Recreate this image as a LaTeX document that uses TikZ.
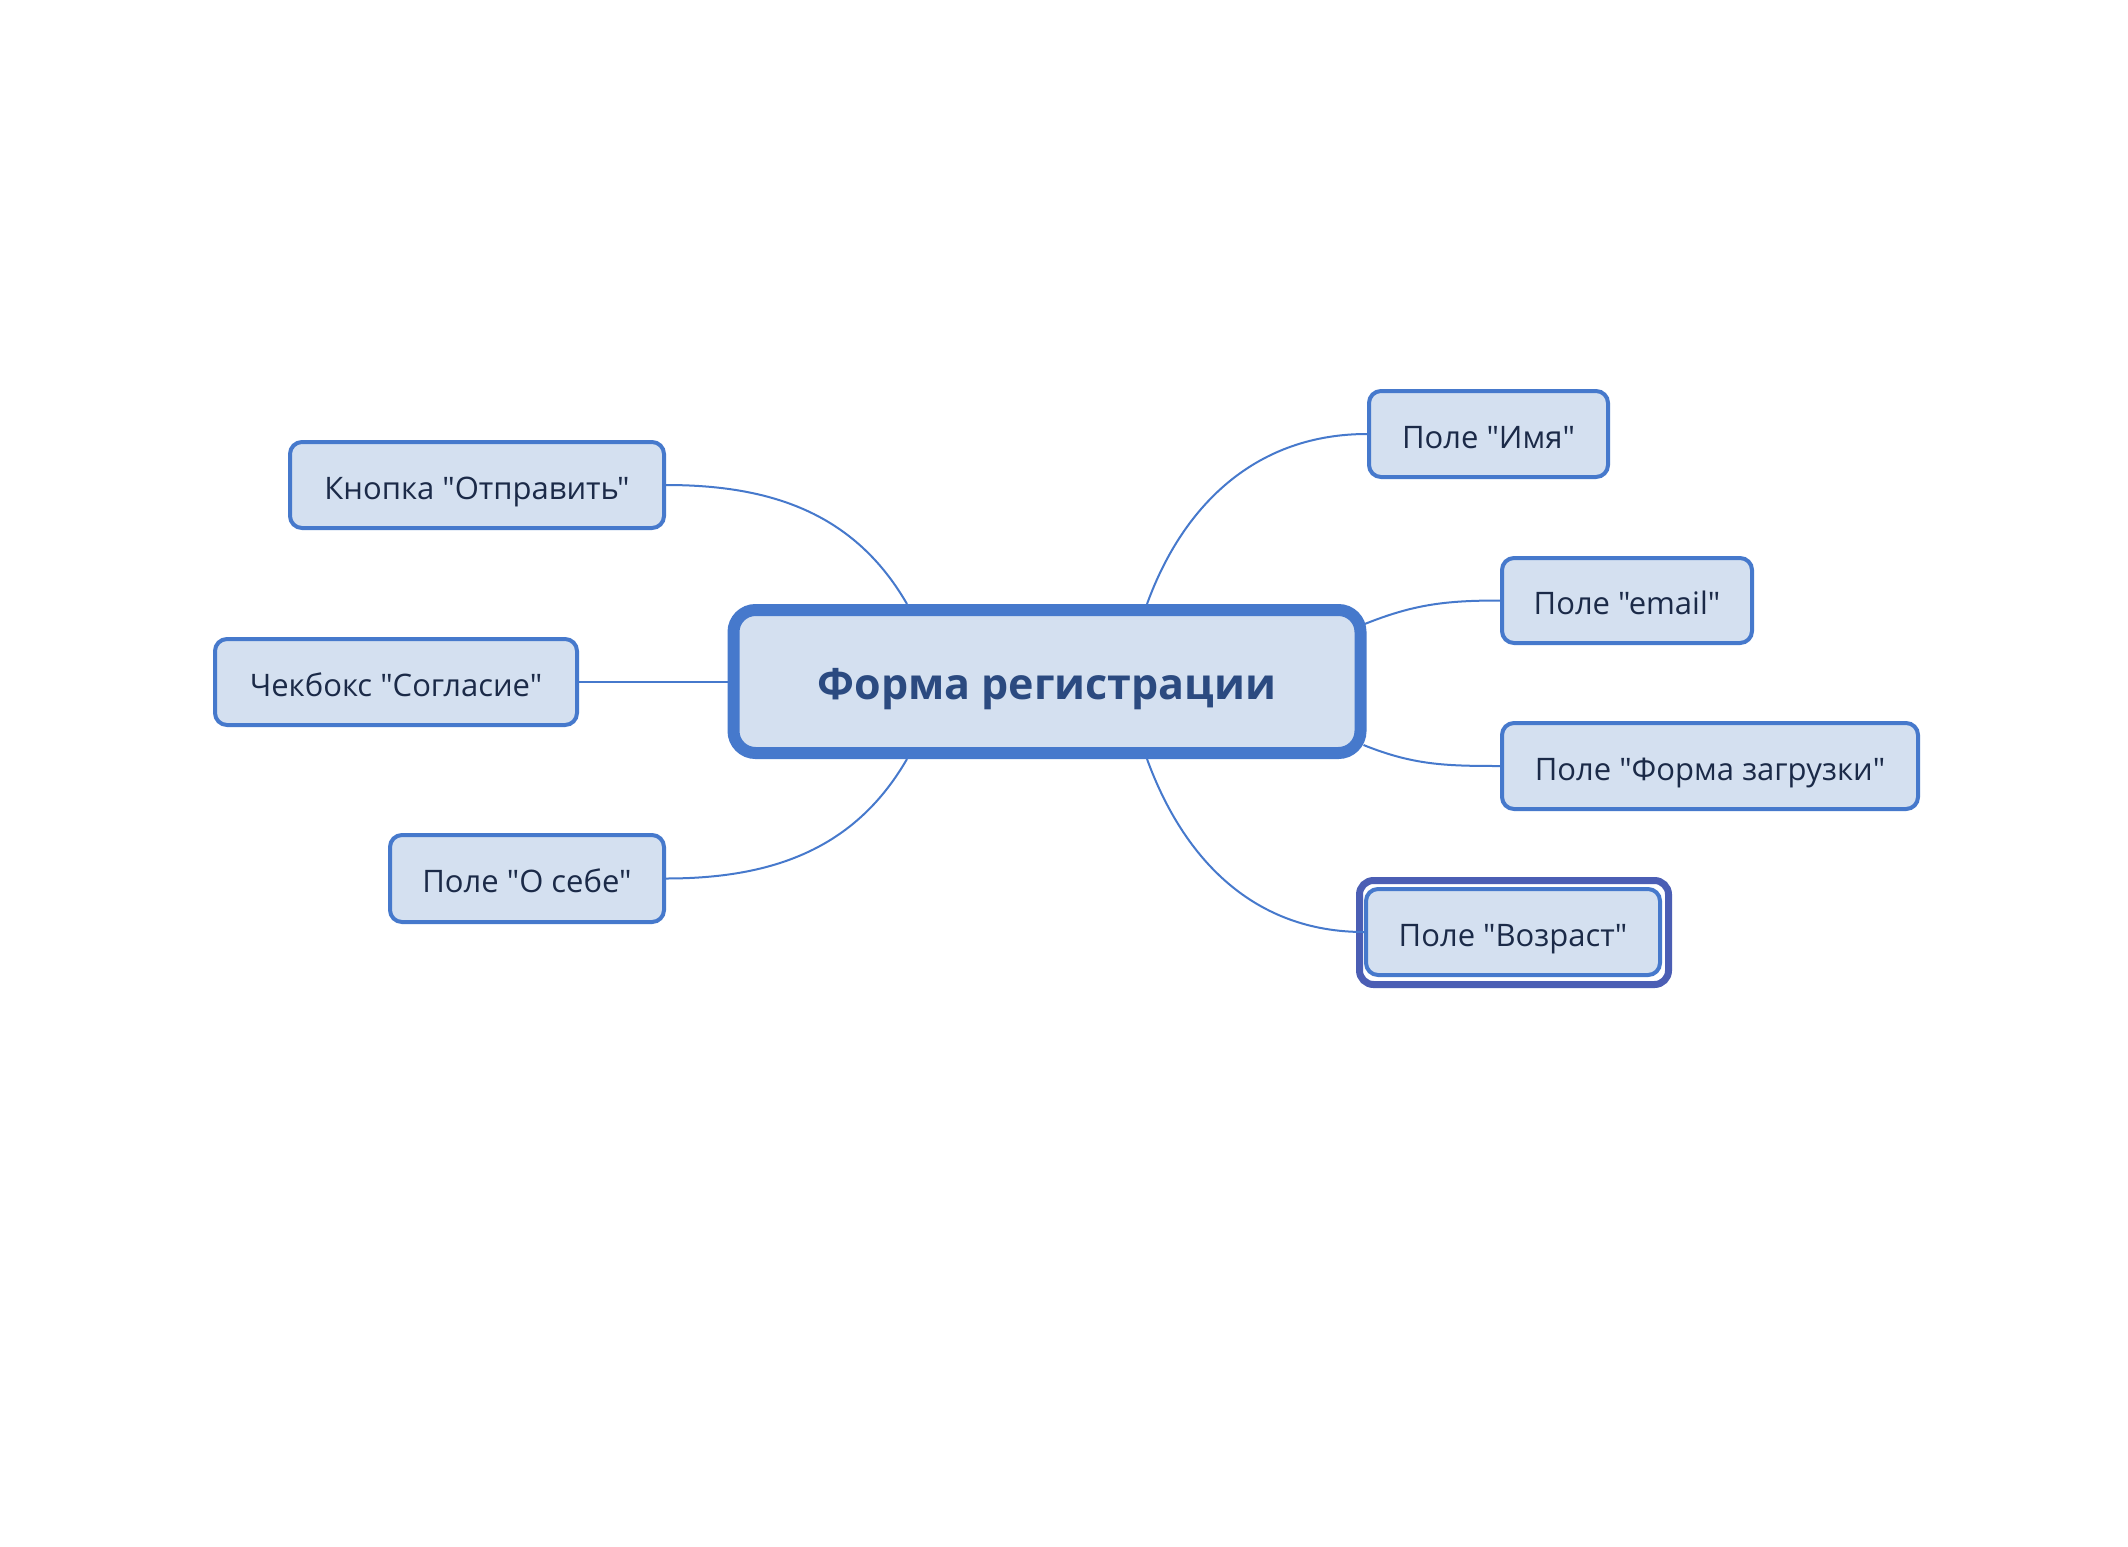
\documentclass[tikz,border=0pt]{standalone}
\usepackage{fontspec}
\setmainfont{Open Sans}[Ligatures=TeXOff]
\definecolor{boxfill}{HTML}{D4E0F0}
\definecolor{boxline}{HTML}{4679CC}
\definecolor{frameline}{HTML}{4B5EB4}
\definecolor{txt}{HTML}{1B2A48}
\definecolor{maintxt}{HTML}{2B4A80}
\begin{document}
\begin{tikzpicture}[x=0.5pt,y=-0.5pt,
  leaf/.style={draw=boxline, fill=boxfill, line width=2pt, rounded corners=6pt,
    minimum height=43pt, inner sep=0pt, text=txt, font=\fontsize{15.5}{19}\selectfont,
    text height=14.4pt, text depth=0pt},
  rootbox/.style={draw=boxline, fill=boxfill, line width=6pt, rounded corners=11pt,
    minimum width=313.5pt, minimum height=71.5pt, inner sep=0pt, text=maintxt,
    font=\fontsize{21.5}{26}\selectfont\bfseries, text height=18pt, text depth=0pt},
  selframe/.style={draw=frameline, line width=3.5pt, rounded corners=7pt,
    minimum width=154.5pt, minimum height=52pt, inner sep=0pt},
  link/.style={draw=boxline, line width=1pt}]
\useasboundingbox (0,0) rectangle (2128,1546);
\fill[white] (0,0) rectangle (2128,1546);

\node[rootbox] (main) at (1047,681.5) {Форма регистрации};

\node[leaf, minimum width=119.5pt] (imya) at (1488.5,434) {Поле "Имя"};
\node[leaf, minimum width=125pt, minimum height=42.5pt] (email) at (1627,600.5) {Поле "email"};
\node[leaf, minimum width=208pt] (zagr) at (1710,766) {Поле "Форма загрузки"};
\node[selframe] (vozframe) at (1514,932.5) {};
\node[leaf, minimum width=147pt] (voz) at (1513,932) {Поле "Возраст"};
\node[leaf, minimum width=187pt] (knopka) at (477,485) {Кнопка "Отправить"};
\node[leaf, minimum width=181pt] (chek) at (396,682) {Чекбокс "Согласие"};
\node[leaf, minimum width=137pt, minimum height=43.5pt] (osebe) at (527,878.5) {Поле "О себе"};

\draw[link] (knopka.east) to[out=0,in=120] ([xshift=-70pt]main.north);
\draw[link] ([xshift=50pt]main.north) to[out=70,in=180] (imya.west);
\draw[link] ([xshift=-1.5pt,yshift=28.5pt]main.east) to[out=22,in=180] (email.west);
\draw[link] ([xshift=-1.5pt,yshift=-31.75pt]main.east) to[out=-22,in=180] (zagr.west);
\draw[link] ([xshift=50pt]main.south) to[out=-70,in=180] (voz.west);
\draw[link] ([xshift=-70pt]main.south) to[out=-120,in=0] (osebe.east);
\draw[link] (chek.east) -- (chek.east -| main.west);
\end{tikzpicture}
\end{document}
